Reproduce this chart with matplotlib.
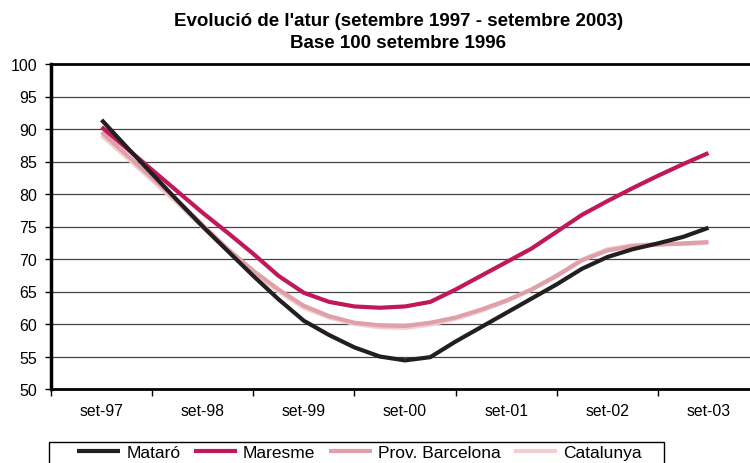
import matplotlib
matplotlib.use("Agg")
import matplotlib.pyplot as plt
from matplotlib.patches import Rectangle
import numpy as np

plt.rcParams['font.family'] = ['Liberation Sans', 'DejaVu Sans']

# quarterly values, set-97 .. set-03
year_labels = ['set-97', 'set-98', 'set-99', 'set-00', 'set-01', 'set-02', 'set-03']

mataro = [91.4, 87.2, 83.1, 79.0, 75.0, 71.2, 67.4, 63.8, 60.5, 58.3, 56.4, 55.0, 54.4,
          54.9, 57.3, 59.5, 61.7, 63.9, 66.1, 68.5, 70.3, 71.5, 72.4, 73.4, 74.8]
maresme = [90.3, 87.0, 83.7, 80.4, 77.1, 74.0, 70.8, 67.4, 64.8, 63.4, 62.7, 62.5, 62.7,
           63.4, 65.3, 67.4, 69.5, 71.6, 74.2, 76.8, 78.9, 80.9, 82.8, 84.6, 86.3]
prov_bcn = [89.5, 86.0, 82.5, 79.0, 75.2, 71.5, 68.2, 65.3, 62.8, 61.2, 60.2, 59.8, 59.7,
            60.2, 61.0, 62.2, 63.6, 65.3, 67.4, 69.8, 71.3, 72.0, 72.2, 72.4, 72.6]
catalunya = [89.0, 85.6, 82.1, 78.6, 74.9, 71.2, 67.9, 65.0, 62.5, 61.0, 60.0, 59.5, 59.4,
             59.9, 60.8, 62.0, 63.5, 65.3, 67.5, 69.9, 71.5, 72.1, 72.3, 72.3, 72.5]

series = [('Mataró', mataro, '#231f20'),
          ('Maresme', maresme, '#c0185a'),
          ('Prov. Barcelona', prov_bcn, '#e0a0a8'),
          ('Catalunya', catalunya, '#f3cdd1')]

x = np.arange(len(mataro)) / 4.0

fig = plt.figure(figsize=(7.5, 4.64), dpi=100)
ax = fig.add_axes([51/750, 1 - 390/464, 708/750, 325/464])

# draw lightest first so darker ones sit on top
for name, vals, col in reversed(series):
    ax.plot(x, vals, color=col, lw=3, label=name, solid_capstyle='butt')

ax.set_ylim(50, 100)
ax.set_xlim(-0.5, 6.5)
ax.set_yticks(np.arange(50, 101, 5))
ax.set_xticks(np.arange(-0.5, 6.6, 1))
ax.set_xticklabels([])
ax.set_xticks(np.arange(0, 7), minor=True)
ax.set_xticklabels(year_labels, minor=True)
ax.tick_params(axis='x', which='major', direction='out', length=5, width=1)
ax.tick_params(axis='x', which='minor', length=0, pad=10, labelsize=11.3)
ax.tick_params(axis='y', direction='out', length=4, width=1, pad=6, labelsize=11.5)

for v in range(55, 100, 5):
    ax.axhline(v, color='#444444', lw=0.9, zorder=0)

ax.spines['left'].set_linewidth(2.5)
ax.spines['top'].set_linewidth(2)
ax.spines['bottom'].set_linewidth(2)
ax.spines['right'].set_visible(False)

fig.text(0.531, 1 - 21/464, "Evolució de l'atur (setembre 1997 - setembre 2003)",
         ha='center', va='center', fontsize=13.5, fontweight='bold')
fig.text(0.531, 1 - 43/464, "Base 100 setembre 1996",
         ha='center', va='center', fontsize=13.5, fontweight='bold')

# legend box runs off the bottom of the image
fig.patches.append(Rectangle((49/750, -0.05), 615/750, 0.05 + 21/464,
                             transform=fig.transFigure, fill=False,
                             edgecolor='black', lw=1))

handles, labels = ax.get_legend_handles_labels()
leg = fig.legend(handles[::-1], labels[::-1], loc='center left',
                 bbox_to_anchor=(77/750, 1 - 453/464), ncol=4, fontsize=12.5,
                 frameon=False, borderaxespad=0, borderpad=0,
                 handlelength=2.5, handletextpad=0.35, columnspacing=0.75)

fig.savefig('out.png', dpi=100)
